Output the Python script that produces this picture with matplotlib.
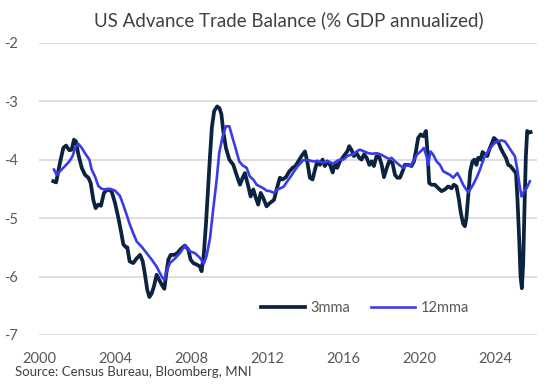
import matplotlib
matplotlib.use("Agg")
import matplotlib.pyplot as plt

# 3-month moving average, (decimal year, % of GDP)
dates_3mma = [
    2000.75, 2000.9, 2001.1, 2001.28, 2001.42, 2001.6, 2001.72, 2001.84, 2001.95, 2002.07,
    2002.25, 2002.42, 2002.6, 2002.72, 2002.86, 2002.98, 2003.12, 2003.26, 2003.42, 2003.6,
    2003.82, 2004.0, 2004.18, 2004.3, 2004.44, 2004.58, 2004.65, 2004.77, 2004.96, 2005.14,
    2005.32, 2005.46, 2005.58, 2005.7, 2005.81, 2005.93, 2006.05, 2006.19, 2006.33, 2006.46,
    2006.6, 2006.68, 2006.81, 2006.93, 2007.1, 2007.28, 2007.46, 2007.68, 2007.86, 2007.98,
    2008.12, 2008.33, 2008.47, 2008.56, 2008.68, 2008.79, 2008.88, 2009.0, 2009.1, 2009.22,
    2009.38, 2009.5, 2009.6, 2009.7, 2009.84, 2010.02, 2010.23, 2010.4, 2010.58, 2010.72,
    2010.84, 2011.02, 2011.14, 2011.28, 2011.42, 2011.54, 2011.67, 2011.81, 2011.98, 2012.16,
    2012.37, 2012.51, 2012.68, 2012.82, 2013.0, 2013.18, 2013.35, 2013.5, 2013.65, 2013.82,
    2014.0, 2014.12, 2014.26, 2014.4, 2014.53, 2014.65, 2014.79, 2014.93, 2015.05, 2015.18,
    2015.32, 2015.46, 2015.58, 2015.7, 2015.84, 2015.98, 2016.11, 2016.23, 2016.33, 2016.46,
    2016.58, 2016.72, 2016.86, 2016.98, 2017.11, 2017.25, 2017.39, 2017.51, 2017.63, 2017.77,
    2017.91, 2018.04, 2018.16, 2018.3, 2018.44, 2018.61, 2018.74, 2018.86, 2019.0, 2019.14,
    2019.26, 2019.44, 2019.61, 2019.74, 2019.84, 2019.96, 2020.09, 2020.23, 2020.37, 2020.46,
    2020.54, 2020.67, 2020.84, 2021.02, 2021.19, 2021.37, 2021.54, 2021.72, 2021.84, 2021.98,
    2022.11, 2022.2, 2022.33, 2022.42, 2022.5, 2022.6, 2022.7, 2022.82, 2022.92, 2023.03,
    2023.12, 2023.25, 2023.35, 2023.47, 2023.6, 2023.7, 2023.82, 2023.95, 2024.05, 2024.18,
    2024.3, 2024.44, 2024.58, 2024.7, 2024.82, 2024.96, 2025.11, 2025.19, 2025.28, 2025.35,
    2025.42, 2025.49, 2025.56, 2025.63, 2025.7, 2025.79, 2025.88,
]
values_3mma = [
    -4.37, -4.39, -4.06, -3.80, -3.76, -3.84, -3.83, -3.66, -3.69, -3.91,
    -4.14, -4.26, -4.31, -4.40, -4.69, -4.83, -4.77, -4.79, -4.57, -4.51,
    -4.54, -4.74, -5.00, -5.20, -5.45, -5.50, -5.50, -5.74, -5.77, -5.69,
    -5.63, -5.74, -5.97, -6.23, -6.35, -6.29, -6.17, -5.97, -6.06, -6.14,
    -6.21, -6.00, -5.71, -5.63, -5.63, -5.60, -5.53, -5.47, -5.54, -5.71,
    -5.77, -5.80, -5.83, -5.91, -5.60, -5.10, -4.60, -3.95, -3.45, -3.17,
    -3.09, -3.12, -3.22, -3.51, -3.80, -4.00, -4.09, -4.26, -4.43, -4.31,
    -4.23, -4.46, -4.63, -4.51, -4.66, -4.77, -4.57, -4.66, -4.80, -4.74,
    -4.69, -4.51, -4.31, -4.34, -4.30, -4.20, -4.14, -4.11, -4.03, -3.94,
    -3.86, -4.03, -4.31, -4.34, -4.17, -4.03, -4.09, -4.00, -4.11, -4.03,
    -4.09, -4.22, -4.06, -4.14, -4.03, -3.97, -3.91, -3.86, -3.77, -3.84,
    -3.94, -3.89, -3.97, -4.00, -3.91, -3.97, -4.09, -4.03, -4.11, -3.94,
    -3.95, -4.09, -4.30, -4.15, -4.02, -4.06, -4.26, -4.31, -4.31, -4.20,
    -4.09, -4.09, -4.11, -4.03, -3.86, -3.63, -3.57, -3.60, -3.51, -3.91,
    -4.40, -4.43, -4.43, -4.49, -4.54, -4.51, -4.46, -4.49, -4.43, -4.46,
    -4.69, -4.90, -5.10, -5.14, -5.00, -4.60, -4.20, -4.03, -4.00, -4.09,
    -3.97, -4.00, -3.87, -3.91, -3.94, -3.83, -3.74, -3.63, -3.66, -3.70,
    -3.80, -3.89, -3.97, -4.09, -4.11, -4.17, -4.23, -4.69, -5.37, -6.00,
    -6.20, -5.77, -4.80, -3.94, -3.51, -3.54, -3.53,
]

# 12-month moving average
dates_12mma = [
    2000.79, 2000.93, 2001.1, 2001.37, 2001.6, 2001.77, 2001.9, 2002.07, 2002.25, 2002.42,
    2002.65, 2002.77, 2002.95, 2003.12, 2003.3, 2003.47, 2003.74, 2004.0, 2004.26, 2004.42,
    2004.6, 2004.77, 2004.96, 2005.14, 2005.4, 2005.67, 2005.93, 2006.19, 2006.46, 2006.6,
    2006.72, 2006.89, 2007.16, 2007.42, 2007.68, 2007.95, 2008.21, 2008.47, 2008.68, 2008.82,
    2009.0, 2009.17, 2009.35, 2009.49, 2009.67, 2009.84, 2010.02, 2010.19, 2010.37, 2010.54,
    2010.72, 2010.93, 2011.1, 2011.28, 2011.46, 2011.63, 2011.81, 2011.98, 2012.16, 2012.37,
    2012.54, 2012.72, 2012.89, 2013.07, 2013.25, 2013.45, 2013.6, 2013.74, 2013.91, 2014.18,
    2014.44, 2014.7, 2014.96, 2015.23, 2015.49, 2015.75, 2016.02, 2016.28, 2016.54, 2016.72,
    2016.89, 2017.11, 2017.33, 2017.56, 2017.77, 2017.98, 2018.2, 2018.44, 2018.56, 2018.74,
    2018.96, 2019.18, 2019.35, 2019.56, 2019.7, 2019.91, 2020.09, 2020.26, 2020.4, 2020.49,
    2020.61, 2020.74, 2020.93, 2021.11, 2021.28, 2021.46, 2021.63, 2021.81, 2022.02, 2022.16,
    2022.33, 2022.51, 2022.6, 2022.72, 2022.9, 2023.05, 2023.18, 2023.3, 2023.47, 2023.7,
    2023.91, 2024.12, 2024.35, 2024.53, 2024.7, 2024.88, 2025.05, 2025.18, 2025.28, 2025.4,
    2025.53, 2025.67, 2025.84,
]
values_12mma = [
    -4.17, -4.26, -4.20, -4.11, -4.03, -3.94, -3.80, -3.73, -3.80, -3.89,
    -4.00, -4.17, -4.29, -4.45, -4.50, -4.51, -4.50, -4.53, -4.62, -4.76,
    -4.93, -5.10, -5.26, -5.40, -5.49, -5.60, -5.71, -5.83, -6.00, -6.06,
    -5.91, -5.77, -5.69, -5.60, -5.47, -5.57, -5.60, -5.68, -5.78, -5.65,
    -5.35, -4.85, -4.35, -3.88, -3.60, -3.43, -3.43, -3.63, -3.83, -4.03,
    -4.10, -4.14, -4.29, -4.34, -4.43, -4.46, -4.49, -4.53, -4.54, -4.57,
    -4.51, -4.49, -4.46, -4.37, -4.29, -4.19, -4.12, -4.07, -4.01, -4.01,
    -4.03, -4.03, -4.05, -4.03, -4.07, -4.01, -4.00, -3.93, -3.91, -3.86,
    -3.83, -3.86, -3.89, -3.90, -3.89, -3.91, -3.95, -3.99, -3.97, -4.03,
    -4.09, -4.14, -4.09, -4.11, -4.03, -3.91, -3.86, -3.80, -3.94, -4.09,
    -3.86, -3.91, -4.03, -4.09, -4.20, -4.23, -4.26, -4.31, -4.23, -4.31,
    -4.43, -4.52, -4.56, -4.50, -4.40, -4.30, -4.20, -4.09, -3.94, -3.83,
    -3.74, -3.69, -3.67, -3.69, -3.77, -3.86, -3.94, -4.17, -4.40, -4.63,
    -4.54, -4.49, -4.37,
]

x_ticks = [2000, 2004, 2008, 2012, 2016, 2020, 2024]
y_ticks = [-2, -3, -4, -5, -6, -7]

plt.rcParams["font.family"] = ["Lato", "DejaVu Sans"]

fig = plt.figure(figsize=(5.58, 3.87), dpi=100)
ax = fig.add_axes([0.0699, 0.1344, 0.8919, 0.7553])

ax.plot(dates_3mma, values_3mma, color="#0c2340", lw=2.7, label="3mma",
        solid_joinstyle="round", zorder=3)
ax.plot(dates_12mma, values_12mma, color="#3b3bec", lw=1.9, label="12mma",
        solid_joinstyle="round", zorder=4)

ax.set_xlim(2000, 2026.2)
ax.set_ylim(-7, -2)
ax.set_xticks(x_ticks)
ax.set_xticklabels([str(t) for t in x_ticks])
ax.set_yticks(y_ticks)
ax.set_yticklabels([str(t) for t in y_ticks])
ax.grid(axis="y", color="#d9d9d9", lw=1.2)
ax.set_axisbelow(True)
for side in ax.spines.values():
    side.set_visible(False)
ax.tick_params(length=0, labelsize=10.5, colors="#595959")
ax.tick_params(axis="y", pad=15)
ax.tick_params(axis="x", pad=12)

ax.legend(loc="center", bbox_to_anchor=(0.655, 0.092), ncol=2, frameon=False,
          fontsize=10.5, handlelength=3.0, handletextpad=0.4, columnspacing=1.4,
          labelcolor="#595959")

fig.text(0.518, 0.948, "US Advance Trade Balance (% GDP annualized)", ha="center",
         va="center", fontsize=13.5, color="#404040")
fig.text(0.027, 0.038, "Source: Census Bureau, Bloomberg, MNI", ha="left",
         va="center", fontsize=9.5, color="#404040")

fig.savefig("out.png", dpi=100)
